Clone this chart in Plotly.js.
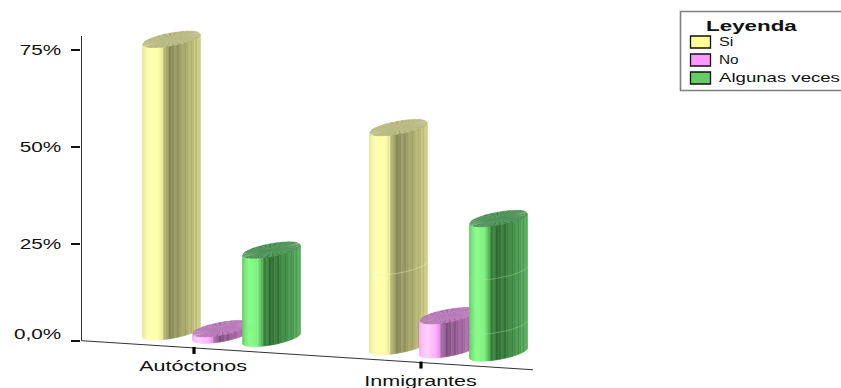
<!DOCTYPE html>
<html>
<head>
<meta charset="utf-8">
<script src="https://cdn.plot.ly/plotly-3.0.1.min.js"></script>
<style>
html,body{margin:0;padding:0;background:#fff;overflow:hidden}
</style>
</head>
<body>
<div id="chart" style="width:841px;height:388px"></div>
<script>
// Survey answers by group, in percent
const categories = ['Autóctonos', 'Inmigrantes'];
const seriesNames = ['Si', 'No', 'Algunas veces'];
const siValues = [75.5, 56.5];
const noValues = [1.7, 8.8];
const algunasValues = [22.8, 34.7];
const tickValues = [0, 25, 50, 75];
const tickLabels = ['0,0%', '25%', '50%', '75%'];

const W = 841, H = 388, LEFT = 81;
const PX_PER_UNIT_X = 227, PX_PER_PCT = 3.876;
const ZERO_PX = 340.7, CAT0_PX = 194;

// Cylinder geometry, in axis units
const RADIUS = 28.75 / PX_PER_UNIT_X;
const TILT = 5 / PX_PER_PCT;
const MINOR = 6.5 / PX_PER_PCT;
const SERIES_STEP = 50 / PX_PER_UNIT_X;
const DEPTH_SHIFT = 27.5 / PX_PER_UNIT_X;
const FLOOR_SLOPE = 3.77;
const FLOOR_AT_ORIGIN = 2.24 - FLOOR_SLOPE * 0.097;

const floorAt = x => FLOOR_AT_ORIGIN - FLOOR_SLOPE * x;
const axisY = x => -FLOOR_SLOPE * (x - (LEFT + 0.5 - CAT0_PX) / PX_PER_UNIT_X);

// Shading of each cylinder from its left edge to its right edge
const palettes = [
  {stops: [[0,'#e6e6a0'],[.05,'#f6f6a6'],[.12,'#ffffb4'],[.28,'#ffffa6'],[.36,'#e4e494'],[.40,'#9c9c66'],[.5,'#8a8a58'],[.62,'#969660'],[.75,'#a6a66a'],[.88,'#b8b876'],[1,'#caca84']],
   capA:'#a8a870', capB:'#bcbc84', seam:'rgba(240,240,190,0.55)', swatch:'#ffff99'},
  {stops: [[0,'#f0b0f0'],[.05,'#ffc0ff'],[.14,'#ffd0ff'],[.28,'#ffb0ff'],[.36,'#e090e0'],[.40,'#905c90'],[.5,'#845084'],[.62,'#905a90'],[.75,'#a064a0'],[.88,'#b06eb0'],[1,'#be78be']],
   capA:'#a964a9', capB:'#bb7cbb', seam:'rgba(240,190,240,0.5)', swatch:'#ff99ff'},
  {stops: [[0,'#68c868'],[.05,'#7ae87a'],[.12,'#88ff88'],[.26,'#80f080'],[.33,'#60c060'],[.38,'#3a803c'],[.5,'#2f6f32'],[.62,'#367a3a'],[.75,'#3f8a44'],[.88,'#4b9a50'],[1,'#55a85a']],
   capA:'#3c8244', capB:'#50965a', seam:'rgba(160,230,160,0.5)', swatch:'#66cc66'}
];

// Heights of the faint joints on the side walls: [group, series, height]
const wallJoints = [[1,0,20.6],[1,2,21],[1,2,7]];

const hex = c => [1,3,5].map(i => parseInt(c.substr(i,2),16));
function shade(stops, f, lift) {
  for (let i = 1; i < stops.length; i++) {
    if (f <= stops[i][0]) {
      const a = stops[i-1], b = stops[i], u = (f-a[0])/(b[0]-a[0]);
      const ca = hex(a[1]), cb = hex(b[1]);
      return 'rgb(' + ca.map((v,j) => Math.min(255, Math.round(v + (cb[j]-v)*u + lift))).join(',') + ')';
    }
  }
  return stops[stops.length-1][1];
}

const rim = (cx, cy, th) => [cx + RADIUS*Math.cos(th), cy + TILT*Math.cos(th) + MINOR*Math.sin(th)];
const centerOf = (group, series) => group + DEPTH_SHIFT + (series-1)*SERIES_STEP;

// One cylinder: faceted side strips plus a radially streaked cap
function cylinder(group, series, value) {
  const traces = [];
  const cx = centerOf(group, series);
  const base = floorAt(cx), top = base + value;
  const pal = palettes[series];
  const N = 34;
  for (let i = 0; i < N; i++) {
    const t0 = Math.PI + Math.PI*i/N, t1 = Math.PI + Math.PI*(i+1)/N;
    const a0 = rim(cx, base, t0), a1 = rim(cx, base, t1);
    const b0 = rim(cx, top, t0), b1 = rim(cx, top, t1);
    const f = (0.5*(a0[0]+a1[0]) - (cx-RADIUS)) / (2*RADIUS);
    // Alternate facets catch the light a little differently past the highlight
    const lift = f > 0.42 ? (i % 3 === 0 ? 12 : (i % 3 === 1 ? -4 : 3)) : 0;
    const col = shade(pal.stops, f, lift);
    traces.push({type:'scatter', mode:'lines', fill:'toself', fillcolor:col,
      x:[a0[0],a1[0],b1[0],b0[0],a0[0]], y:[a0[1],a1[1],b1[1],b0[1],a0[1]],
      line:{color:col, width:0.6}, hoverinfo:'skip', showlegend:false});
  }
  wallJoints.filter(j => j[0] === group && j[1] === series).forEach(j => {
    const xs = [], ys = [];
    for (let i = 0; i <= 24; i++) {
      const p = rim(cx, base + j[2], Math.PI + Math.PI*i/24);
      xs.push(p[0]); ys.push(p[1]);
    }
    traces.push({type:'scatter', mode:'lines', x:xs, y:ys,
      line:{color:pal.seam, width:0.8}, hoverinfo:'skip', showlegend:false});
  });
  const M = 56;
  for (let k = 0; k < 2; k++) {
    const xs = [], ys = [];
    for (let i = k; i < M; i += 2) {
      const p0 = rim(cx, top, 2*Math.PI*i/M), p1 = rim(cx, top, 2*Math.PI*(i+1)/M);
      xs.push(cx, p0[0], p1[0], cx, null);
      ys.push(top, p0[1], p1[1], top, null);
    }
    const col = k ? pal.capB : pal.capA;
    traces.push({type:'scatter', mode:'lines', fill:'toself', fillcolor:col, x:xs, y:ys,
      line:{color:col, width:0.4}, hoverinfo:'skip', showlegend:false});
  }
  return traces;
}

const traces = [];
const allSeries = [siValues, noValues, algunasValues];
categories.forEach((c, g) => {
  allSeries.forEach((vals, s) => traces.push(...cylinder(g, s, vals[g])));
});

// Axis lines and category ticks
const axisStyle = {color:'#333', width:1};
const xLeft = (LEFT + 0.5 - CAT0_PX) / PX_PER_UNIT_X;
traces.push({type:'scatter', mode:'lines', x:[xLeft, xLeft], y:[0, (ZERO_PX-36)/PX_PER_PCT],
  line:axisStyle, hoverinfo:'skip', showlegend:false});
traces.push({type:'scatter', mode:'lines', x:[xLeft, (533-CAT0_PX)/PX_PER_UNIT_X], y:[0, axisY((533-CAT0_PX)/PX_PER_UNIT_X)],
  line:axisStyle, hoverinfo:'skip', showlegend:false});
categories.forEach((c, g) => {
  const y0 = axisY(g) + 1/PX_PER_PCT;
  traces.push({type:'scatter', mode:'lines', x:[g, g], y:[y0, y0 - 7/PX_PER_PCT],
    line:{color:'#000', width:3.2}, hoverinfo:'skip', showlegend:false});
});

const paperX = px => (px - LEFT) / (W - LEFT);
const paperY = px => 1 - px / H;
const textFont = {family:'"Liberation Sans", Arial, sans-serif', size:14, color:'#111'};

function label(text, px, py, anchor, font, sx) {
  return {ann:{text, xref:'paper', yref:'paper', x:paperX(px), y:paperY(py), xanchor:anchor, yanchor:'middle',
    showarrow:false, borderpad:0, font}, sx, origin: anchor === 'left' ? '0% 50%' : '50% 50%'};
}

const legendFont = Object.assign({}, textFont, {size:12});
const labels = [
  label(categories[0], 193, 365.5, 'center', textFont, 1.54),
  label(categories[1], 420, 380.5, 'center', textFont, 1.54),
  label('<b>Leyenda</b>', 705, 26, 'left', Object.assign({}, textFont, {size:14}), 1.6),
  label(seriesNames[0], 718, 42, 'left', legendFont, 1.35),
  label(seriesNames[1], 718, 60, 'left', legendFont, 1.28),
  label(seriesNames[2], 718, 78, 'left', legendFont, 1.55)
];

const rect = (x0, y0, x1, y1, fill, line, w) => ({type:'rect', xref:'paper', yref:'paper',
  x0:paperX(x0), x1:paperX(x1), y0:paperY(y0), y1:paperY(y1), fillcolor:fill, line:{color:line, width:w}});
const shapes = [
  rect(680.5, 11.5, 846, 90.5, '#fff', '#808080', 1.6),
  rect(690.5, 36, 710.5, 48, palettes[0].swatch, '#111', 1.3),
  rect(690.5, 54, 710.5, 66, palettes[1].swatch, '#111', 1.3),
  rect(690.5, 72, 710.5, 84, palettes[2].swatch, '#111', 1.3)
];

const layout = {
  width:W, height:H, showlegend:false, hovermode:false,
  paper_bgcolor:'#fff', plot_bgcolor:'#fff',
  margin:{l:LEFT, r:0, t:0, b:0, pad:0},
  xaxis:{range:[(LEFT-CAT0_PX)/PX_PER_UNIT_X, (W-CAT0_PX)/PX_PER_UNIT_X], visible:false, fixedrange:true},
  yaxis:{range:[(ZERO_PX-H)/PX_PER_PCT, ZERO_PX/PX_PER_PCT], tickmode:'array', tickvals:tickValues, ticktext:tickLabels,
    ticks:'outside', ticklen:9, tickwidth:2, tickcolor:'#111', showgrid:false, zeroline:false, showline:false,
    ticklabelstandoff:7, tickfont:textFont, fixedrange:true},
  shapes, annotations:labels.map(l => l.ann)
};

Plotly.newPlot('chart', traces, layout, {displayModeBar:false, staticPlot:true}).then(() => {
  // The lettering is set wide: stretch each text horizontally around its anchor
  const widen = (el, sx, origin, dy) => {
    const attr = el.getAttribute('transform') || '';
    const m = attr.match(/translate\(\s*([-\d.]+)[ ,]+([-\d.]+)\s*\)/);
    const move = m ? 'translate(' + m[1] + 'px,' + (parseFloat(m[2]) + dy) + 'px) ' : '';
    el.style.transformBox = 'fill-box';
    el.style.transformOrigin = origin;
    el.style.transform = move + 'scaleX(' + sx + ')';
  };
  // The zero label sits just above its tick, clear of the floor line
  document.querySelectorAll('.ytick text').forEach(t => {
    widen(t, 1.48, '100% 50%', t.textContent === tickLabels[0] ? -7 : 0);
  });
  document.querySelectorAll('.annotation').forEach(g => {
    const l = labels[+g.getAttribute('data-index')];
    widen(g.querySelector('text'), l.sx, l.origin, 0);
  });
});
</script>
</body>
</html>
